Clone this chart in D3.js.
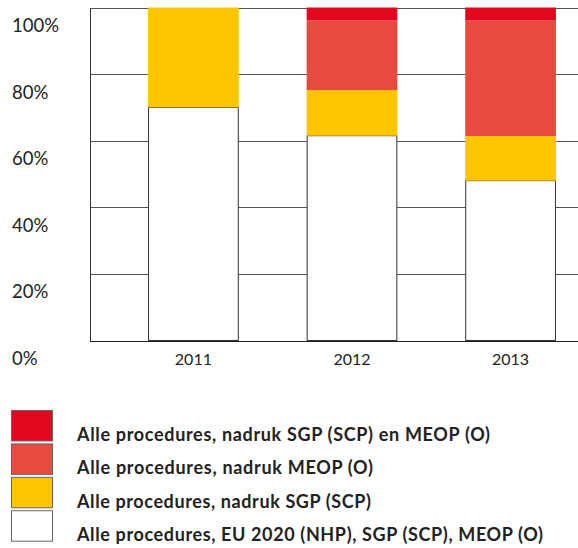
<!DOCTYPE html>
<html><head><meta charset="utf-8">
<script src="https://cdn.jsdelivr.net/npm/d3@7"></script>
<style>body{margin:0;background:#fff}svg{display:block}</style>
</head><body>
<svg id="c" width="578" height="548"></svg>
<script>
const years = ["2011", "2012", "2013"];
const baseAll = [70.0, 61.5, 48.0];      // EU 2020 (NHP), SGP (SCP), MEOP (O)
const nadrukSGP = [30.0, 13.7, 13.4];    // nadruk SGP (SCP)
const nadrukMEOP = [0, 21.0, 34.8];      // nadruk MEOP (O)
const nadrukBoth = [0, 3.8, 3.8];        // nadruk SGP (SCP) en MEOP (O)
const yTicks = [0, 20, 40, 60, 80, 100];
const yTickLabels = ["0%", "20%", "40%", "60%", "80%", "100%"];
const seriesNames = [
  "Alle procedures, EU 2020 (NHP), SGP (SCP), MEOP (O)",
  "Alle procedures, nadruk SGP (SCP)",
  "Alle procedures, nadruk MEOP (O)",
  "Alle procedures, nadruk SGP (SCP) en MEOP (O)"
];
const colors = ["#ffffff", "#fdc500", "#e84a40", "#e3061f"];

const svg = d3.select("#c");
const W = 578;
const font = "Lato, 'Open Sans', sans-serif";
const x = d3.scaleBand().domain(years).range([90, 614]).paddingInner(0.428).paddingOuter(0.366);
const y = d3.scaleLinear().domain([0, 100]).range([340.5, 7.5]);

// gridlines
svg.append("g").selectAll("line").data(yTicks).join("line")
  .attr("x1", 90).attr("x2", W)
  .attr("y1", d => Math.round(y(d)) + 0.5).attr("y2", d => Math.round(y(d)) + 0.5)
  .attr("stroke", d => d === 0 ? "#222" : "#555").attr("stroke-width", 1);
svg.append("line").attr("x1", 90.5).attr("x2", 90.5)
  .attr("y1", Math.round(y(100)) + 0.5).attr("y2", Math.round(y(0)) + 0.5)
  .attr("stroke", "#333");

// y labels (placed below gridlines)
svg.append("g").selectAll("text").data(yTicks).join("text")
  .attr("x", 12).attr("y", d => y(d) + 24.5)
  .attr("font-family", font).attr("font-size", 18.5).attr("fill", "#222")
  .text((d, i) => yTickLabels[i]);

// stacked data
const rows = years.map((yr, i) => ({year: yr, a: baseAll[i], b: nadrukSGP[i], c: nadrukMEOP[i], d: nadrukBoth[i]}));
const stack = d3.stack().keys(["a", "b", "c", "d"])(rows);

stack.forEach((layer, li) => {
  svg.append("g").selectAll("rect").data(layer.filter(s => s[1] - s[0] > 0)).join("rect")
    .attr("x", s => x(s.data.year) + (li === 0 ? 0.5 : 0))
    .attr("width", x.bandwidth() - (li === 0 ? 1 : 0))
    .attr("y", s => y(s[1]))
    .attr("height", s => y(s[0]) - y(s[1]))
    .attr("fill", colors[li])
    .attr("stroke", li === 0 ? "#333" : "none")
    .attr("stroke-width", 1);
});

// x labels
svg.append("g").selectAll("text").data(years).join("text")
  .attr("x", d => x(d) + x.bandwidth() / 2).attr("y", 365)
  .attr("text-anchor", "middle")
  .attr("font-family", font).attr("font-size", 16).attr("fill", "#222")
  .text(d => d);

// legend (top to bottom: reverse of stack)
const legendOrder = [3, 2, 1, 0];
const legendWidths = [413, 296, 294, 466];
const lg = svg.append("g");
legendOrder.forEach((si, r) => {
  const top = 410 + r * 33.4;
  lg.append("rect").attr("x", 11.5).attr("y", top + 0.5).attr("width", 41).attr("height", 30.5)
    .attr("fill", colors[si]).attr("stroke", "#666").attr("stroke-width", 1);
  lg.append("text").attr("x", 77).attr("y", top + 31)
    .attr("font-family", font).attr("font-weight", "bold").attr("font-size", 18).attr("fill", "#222")
    .attr("textLength", legendWidths[r]).attr("lengthAdjust", "spacing")
    .text(seriesNames[si]);
});
</script>
</body></html>
